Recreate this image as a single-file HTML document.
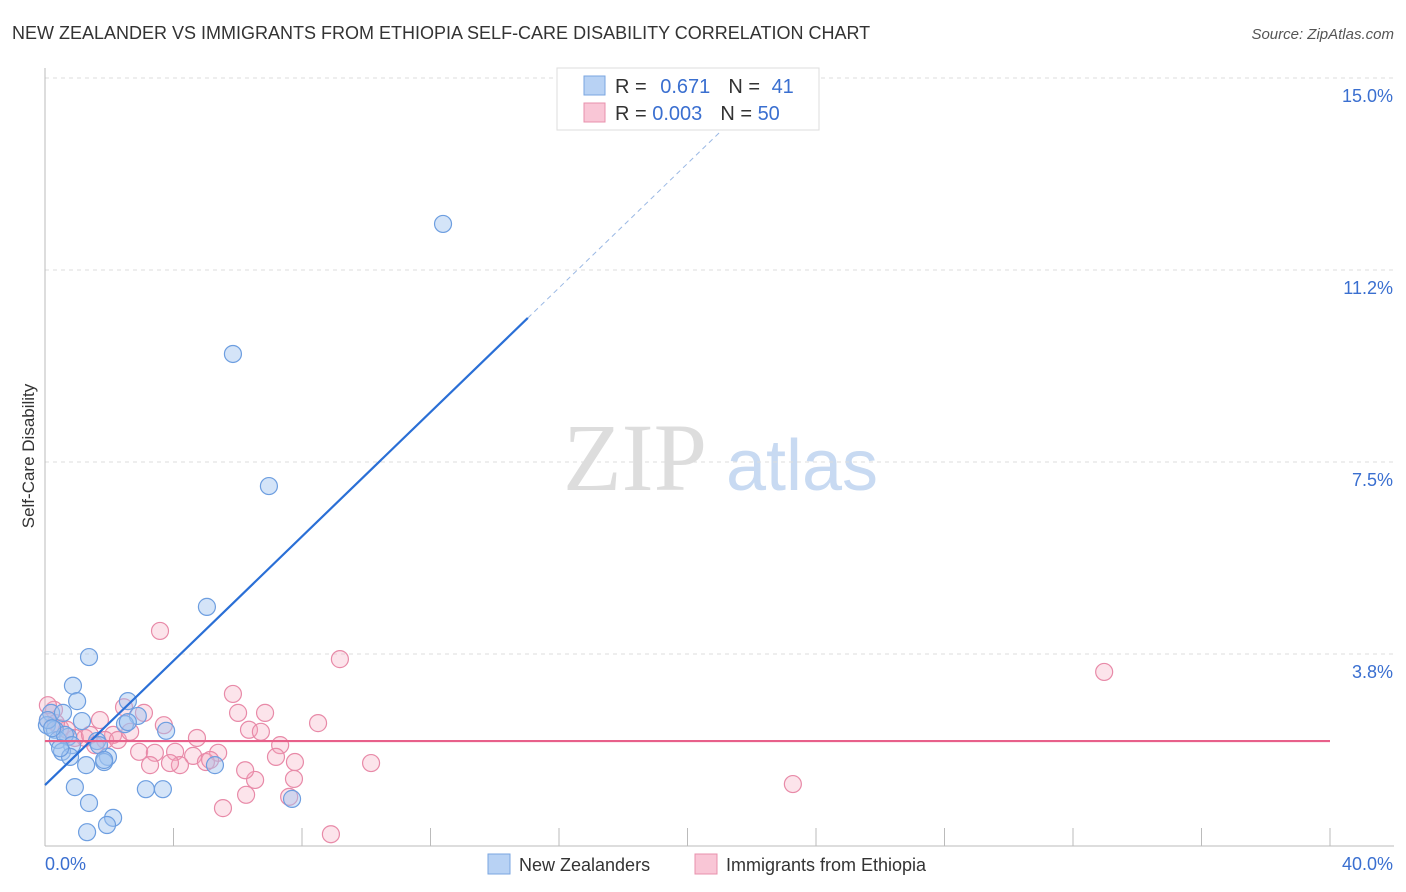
<!DOCTYPE html>
<html><head><meta charset="utf-8"><style>
body{margin:0;background:#fff;font-family:"Liberation Sans",sans-serif}
svg{display:block}
</style></head><body>
<svg id="chart" width="1406" height="892" viewBox="0 0 1406 892" xmlns="http://www.w3.org/2000/svg">
<text x="12" y="39" font-size="18" fill="#333">NEW ZEALANDER VS IMMIGRANTS FROM ETHIOPIA SELF-CARE DISABILITY CORRELATION CHART</text>
<text x="1394" y="39" font-size="15" fill="#555" font-style="italic" text-anchor="end">Source: ZipAtlas.com</text>
<text x="34" y="456" font-size="17" fill="#333" text-anchor="middle" transform="rotate(-90 34 456)">Self-Care Disability</text>
<g>
<text x="635" y="490" font-size="96" fill="#ddd" font-family="Liberation Serif,serif" text-anchor="middle">ZIP</text>
<text x="802" y="490" font-size="72" fill="#c8daf2" text-anchor="middle">atlas</text>
</g>
<g id="grid"></g><g id="axes"></g><g id="pts"></g><g id="lines"></g>
<g>
<rect x="557" y="68" width="262" height="62" fill="#fff" stroke="#ddd"/>
<rect x="584" y="76" width="21" height="19" fill="#b8d2f4" stroke="#7aa6e0"/>
<rect x="584" y="103" width="21" height="19" fill="#f9c6d6" stroke="#e890ac"/>
<text x="615" y="93" font-size="20" fill="#333">R = <tspan fill="#3a6fd0" dx="8">0.671</tspan><tspan dx="18" fill="#333">N = </tspan><tspan fill="#3a6fd0" dx="6">41</tspan></text>
<text x="615" y="120" font-size="20" fill="#333">R = <tspan fill="#3a6fd0">0.003</tspan><tspan dx="18" fill="#333">N = </tspan><tspan fill="#3a6fd0">50</tspan></text>
</g>
<g>
<rect x="488" y="854" width="22" height="20" fill="#b8d2f4" stroke="#7aa6e0"/>
<text x="519" y="871" font-size="18" fill="#333">New Zealanders</text>
<rect x="695" y="854" width="22" height="20" fill="#f9c6d6" stroke="#e890ac"/>
<text x="726" y="871" font-size="18" fill="#333">Immigrants from Ethiopia</text>
</g>
</svg>
<script>
const yTicks=[3.75,7.5,11.25,15];
const yTickLabels=["3.8%","7.5%","11.2%","15.0%"];
const xTicks=[0,4,8,12,16,20,24,28,32,36,40];
const blueX=[12.39,5.85,6.97,5.04,1.37,0.87,1.00,2.58,2.89,0.19,0.56,1.15,2.49,3.77,0.06,0.31,0.72,0.40,0.62,1.62,0.84,0.53,0.78,1.96,1.84,1.28,5.29,0.93,3.14,3.67,1.37,7.69,2.12,1.93,1.31,0.09,0.22,1.68,0.47,2.58,1.84];
const blueY=[12.15,9.61,7.03,4.67,3.69,3.13,2.83,2.83,2.54,2.60,2.60,2.44,2.38,2.25,2.36,2.27,2.13,2.07,2.17,2.05,1.97,1.84,1.74,1.74,1.64,1.58,1.58,1.15,1.11,1.11,0.84,0.92,0.55,0.41,0.27,2.46,2.30,1.97,1.91,2.42,1.68];
const pinkX=[3.58,9.18,32.97,5.85,6.01,6.85,3.08,2.46,3.70,8.50,6.35,6.72,0.28,0.09,0.47,1.71,2.12,1.25,0.93,4.73,7.32,5.39,2.93,3.42,4.05,4.61,5.01,3.27,4.20,3.89,7.19,7.78,10.15,6.54,7.75,6.26,5.54,7.60,8.90,23.28,1.87,1.40,2.27,0.68,0.34,2.65,1.56,5.14,6.23,0.09];
const pinkY=[4.20,3.65,3.40,2.97,2.60,2.60,2.60,2.71,2.36,2.40,2.27,2.23,2.66,2.46,2.30,2.46,2.17,2.11,2.11,2.11,1.97,1.82,1.84,1.82,1.84,1.76,1.64,1.58,1.58,1.62,1.74,1.64,1.62,1.29,1.31,1.00,0.74,0.96,0.23,1.21,2.07,2.17,2.07,2.27,2.40,2.23,1.97,1.68,1.48,2.75];
const blueFit=[1.19,0.607];
const pinkFit=[2.05,0.0];
const NS="http://www.w3.org/2000/svg";
const X0=45,X1=1330,Y0=846,YT=78;
const sx=v=>X0+v/40*(X1-X0);
const sy=v=>Y0-v/15*(Y0-YT);
function mk(t,a,p){const e=document.createElementNS(NS,t);for(const k in a)e.setAttribute(k,a[k]);p.appendChild(e);return e;}
const grid=document.getElementById('grid'),axes=document.getElementById('axes'),pts=document.getElementById('pts'),lines=document.getElementById('lines');
yTicks.forEach((v,i)=>{
 const l=mk('line',{x1:X0,x2:1394,y1:sy(v),y2:sy(v),stroke:'#ddd','stroke-dasharray':'4,4'},grid);
 
 
 const t=mk('text',{x:1393,y:sy(v)+24,'font-size':18,fill:'#3a6fd0','text-anchor':'end'},axes);
 t.textContent=yTickLabels[i];
 
 
});
const ya=mk('line',{x1:X0,x2:X0,y1:68,y2:Y0,stroke:'#bbb'},axes);


const xa=mk('line',{x1:X0,x2:1394,y1:Y0,y2:Y0,stroke:'#bbb'},axes);


xTicks.forEach(v=>{
 const l=mk('line',{x1:sx(v),x2:sx(v),y1:Y0-18,y2:Y0,stroke:'#bbb'},axes);
 
 
});
const xl0=mk('text',{x:45,y:870,'font-size':18,fill:'#3a6fd0'},axes);xl0.textContent='0.0%';


const xl1=mk('text',{x:1393,y:870,'font-size':18,fill:'#3a6fd0','text-anchor':'end'},axes);xl1.textContent='40.0%';


pinkX.forEach((v,i)=>{
 const c=mk('circle',{cx:sx(v),cy:sy(pinkY[i]),r:8.5,fill:'rgba(245,165,190,0.3)',stroke:'#e88aa8','stroke-width':1.2},pts);
 
 
});
blueX.forEach((v,i)=>{
 const c=mk('circle',{cx:sx(v),cy:sy(blueY[i]),r:8.5,fill:'rgba(160,196,240,0.45)',stroke:'#6d9ee0','stroke-width':1.2},pts);
 
 
});
const bx1=15.03,bx2=21.8;
const b1=mk('line',{x1:sx(0),y1:sy(blueFit[0]),x2:sx(bx1),y2:sy(blueFit[0]+blueFit[1]*bx1),stroke:'#2a6fd6','stroke-width':2.2},lines);


const b2=mk('line',{x1:sx(bx1),y1:sy(blueFit[0]+blueFit[1]*bx1),x2:sx(bx2),y2:sy(blueFit[0]+blueFit[1]*bx2),stroke:'#9ab8e4','stroke-width':1,'stroke-dasharray':'5,4'},lines);


const p1=mk('line',{x1:sx(0),y1:sy(pinkFit[0]),x2:sx(40),y2:sy(pinkFit[0]+pinkFit[1]*40),stroke:'#e8608a','stroke-width':2.2},lines);


</script>
</body></html>
